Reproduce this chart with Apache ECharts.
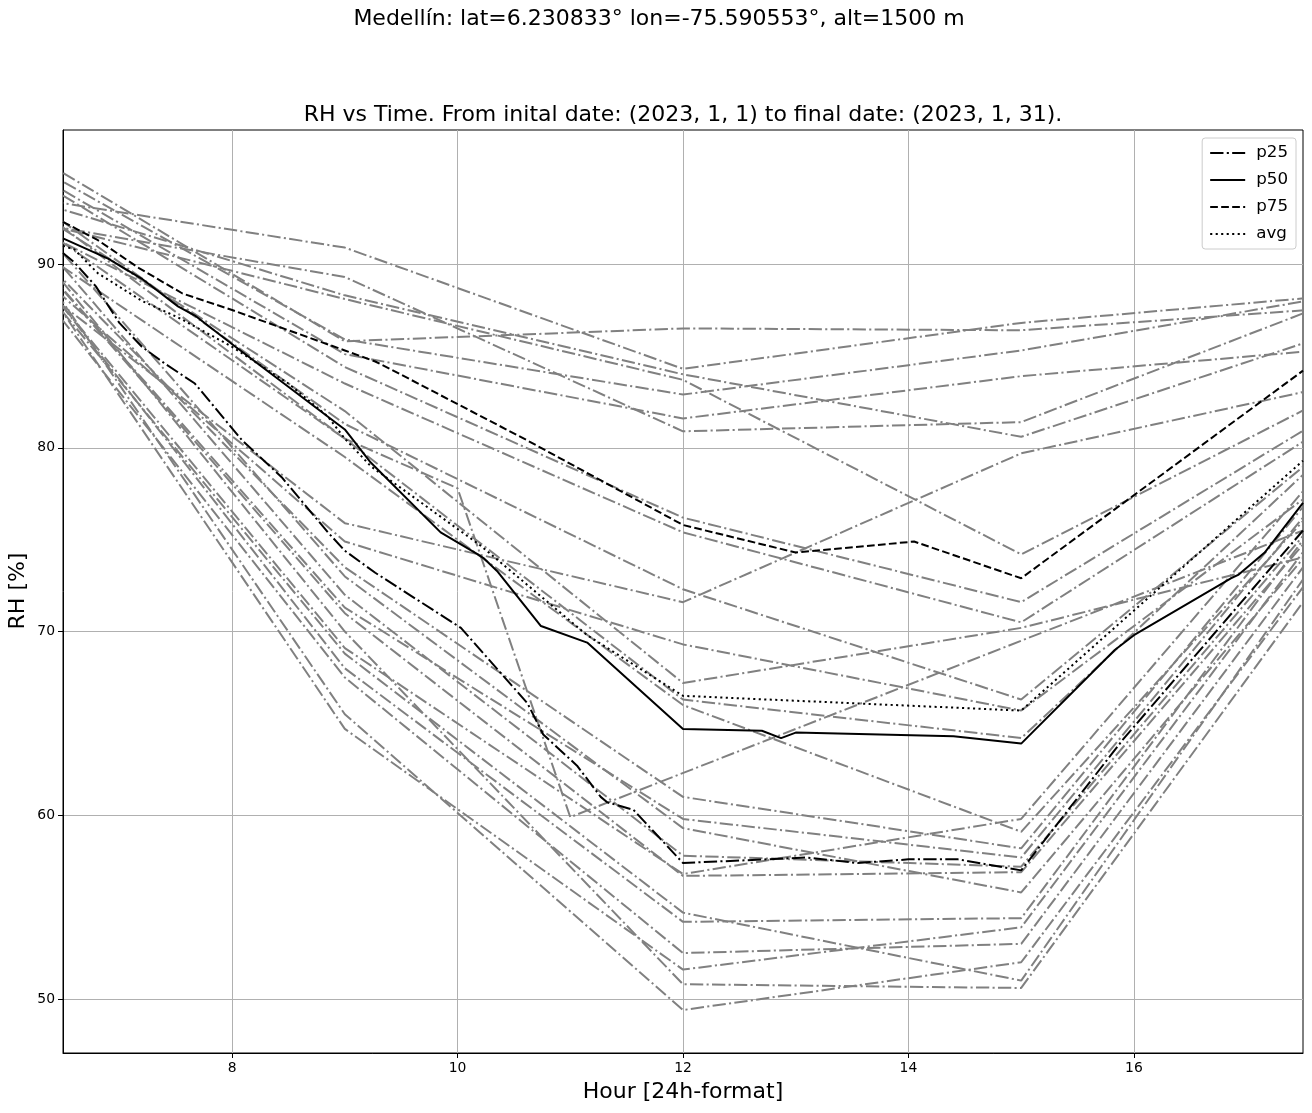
<!DOCTYPE html>
<html>
<head>
<meta charset="utf-8">
<script src="https://cdn.jsdelivr.net/npm/echarts@6/dist/echarts.min.js"></script>
<style>
html,body{margin:0;padding:0;background:#fff;}
#chart{width:1312px;height:1113px;}
</style>
</head>
<body>
<div id="chart"></div>
<script>
// ---- text ----
const SUPTITLE = 'Medellín: lat=6.230833° lon=-75.590553°, alt=1500 m';
const TITLE = 'RH vs Time. From inital date: (2023, 1, 1) to final date: (2023, 1, 31).';
const X_LABEL = 'Hour [24h-format]';
const Y_LABEL = 'RH [%]';
const X_TICKS = [8, 10, 12, 14, 16];
const Y_TICKS = [50, 60, 70, 80, 90];

// ---- daily RH curves (gray) ----
const HOURS = [6, 9, 12, 15, 18];
const D01 = [93.8, 90.9, 84.3, 86.8, 88.4];
const D02 = [92.5, 89.3, 80.9, 81.4, 88.5];
const D03 = [93.9, 88.3, 84.0, 80.6, 86.7];
const D04 = [92.7, 88.1, 83.7, 74.2, 83.6];
const D05 = [96.8, 85.8, 86.5, 86.4, 87.7];
const D06 = [96.2, 85.9, 82.9, 85.3, 88.5];
const D07 = [95.8, 85.1, 81.6, 83.9, 85.5];
const D08 = [95.6, 84.4, 76.2, 71.6, 82.8];
const D09 = [92.7, 83.5, 75.4, 70.5, 82.3];
const D10 = [94.5, 81.3, 72.3, 66.3, 81.5];
const D11 = [90.1, 75.9, 71.6, 79.7, 83.7];
const D12 = [90.9, 74.9, 69.3, 65.7, 79.5];
const D13 = [93.9, 82.0, 67.2, 70.2, 74.8];
const D14 = [93.3, 80.5, 66.3, 64.2, 81.4];
const D15 = [91.9, 79.5, 66.0, 59.1, 79.4];
const D16 = [92.3, 73.5, 61.0, 58.2, 80.5];
const D17 = [92.1, 71.3, 59.8, 57.7, 79.9];
const D18 = [94.1, 73.0, 59.3, 55.8, 77.6];
const D19 = [93.4, 72.0, 57.8, 57.2, 78.8];
const D20 = [91.4, 69.1, 56.8, 59.8, 81.2];
const D21 = [92.1, 71.0, 56.7, 56.9, 78.3];
const D22 = [91.1, 68.8, 54.7, 51.0, 77.2];
const D23 = [91.6, 68.0, 54.2, 54.4, 79.1];
const D24 = [90.8, 67.5, 52.5, 53.0, 77.6];
const D25 = [91.9, 64.7, 51.6, 53.9, 78.4];
const D26 = [92.8, 70.0, 50.8, 50.6, 75.8];
const D27 = [92.4, 65.5, 49.4, 52.0, 76.5];
const D28_HOURS = [6, 9, 10, 11, 18];
const D28 = [94.3, 80.5, 77.8, 59.9, 76.7];

// ---- statistics (black) ----
const P25_HOURS = [6.5, 6.6, 6.79, 7.0, 7.2, 7.4, 7.67, 8.09, 8.44, 8.85, 9.0, 9.27, 10.03, 10.62, 10.76, 11.06, 11.27, 11.33, 11.56, 12.0, 13.1, 13.55, 14.0, 14.44, 15.0, 15.9, 17.5];
const P25_RH    = [90.6, 90.1, 88.8, 86.8, 85.5, 84.6, 83.5, 80.4, 78.4, 75.4, 74.4, 73.2, 70.2, 66.1, 64.4, 62.7, 61.0, 60.7, 60.3, 57.4, 57.7, 57.4, 57.6, 57.6, 57.0, 64.1, 75.5];
const P50_HOURS = [6.5, 6.9, 7.2, 7.52, 7.67, 8.03, 9.0, 9.23, 9.85, 10.18, 10.23, 10.35, 10.74, 11.15, 12.0, 12.7, 12.87, 13.0, 14.4, 15.0, 15.83, 16.0, 16.86, 16.93, 17.16, 17.5];
const P50_RH    = [91.4, 90.3, 89.2, 87.7, 87.2, 85.5, 81.0, 79.2, 75.4, 74.2, 74.0, 73.3, 70.3, 69.4, 64.7, 64.6, 64.2, 64.5, 64.3, 63.9, 69.0, 69.8, 72.9, 73.1, 74.3, 77.0];
const P75_HOURS = [6.5, 6.81, 7.17, 7.56, 8.0, 8.5, 9.0, 9.27, 9.4, 10.62, 12.0, 13.0, 14.05, 15.0, 17.5];
const P75_RH    = [92.3, 91.3, 89.8, 88.4, 87.5, 86.4, 85.3, 84.7, 84.3, 80.4, 75.8, 74.3, 74.9, 72.9, 84.2];
const AVG_HOURS = [6.5, 6.6, 6.81, 7.2, 7.52, 8.0, 8.5, 8.85, 9.0, 9.23, 10.2, 11.15, 12.0, 15.0, 17.5];
const AVG_RH    = [91.0, 90.8, 89.5, 88.0, 87.1, 85.5, 83.5, 81.7, 80.5, 79.0, 74.7, 69.8, 66.5, 65.7, 79.3];

// ---- build ----
const DAYS = [D01,D02,D03,D04,D05,D06,D07,D08,D09,D10,D11,D12,D13,D14,D15,D16,D17,D18,D19,D20,D21,D22,D23,D24,D25,D26,D27];
const zip = (xs, ys) => xs.map((x, i) => [x, ys[i]]);
const FONT = 'DejaVu Sans';
const DASHDOT = [13.3, 3.3, 2.1, 3.3];
const DASHED = [7.7, 3.3];
const DOTTED = [2.1, 3.4];

const series = [];
DAYS.forEach((d, i) => {
  series.push({
    name: 'day' + (i + 1), type: 'line', data: zip(HOURS, d),
    symbol: 'none', silent: true, clip: true, z: 2,
    lineStyle: { color: '#808080', width: 2, type: DASHDOT }
  });
});
series.push({
  name: 'day28', type: 'line', data: zip(D28_HOURS, D28),
  symbol: 'none', silent: true, clip: true, z: 2,
  lineStyle: { color: '#808080', width: 2, type: DASHDOT }
});
const stat = (name, xs, ys, type) => ({
  name, type: 'line', data: zip(xs, ys), symbol: 'none', silent: true, clip: true, z: 3,
  itemStyle: { color: '#000' },
  lineStyle: { color: '#000', width: 2, type }
});
series.push(stat('p25', P25_HOURS, P25_RH, DASHDOT));
series.push(stat('p50', P50_HOURS, P50_RH, 'solid'));
series.push(stat('p75', P75_HOURS, P75_RH, DASHED));
series.push(stat('avg', AVG_HOURS, AVG_RH, DOTTED));

const chart = echarts.init(document.getElementById('chart'), null, { renderer: 'canvas' });
chart.setOption({
  animation: false,
  backgroundColor: '#fff',
  grid: { left: 63, top: 130, width: 1240, height: 923, show: true, borderColor: '#000', borderWidth: 1, backgroundColor: 'transparent' },
  xAxis: {
    type: 'value', min: 6.5, max: 17.5, splitNumber: 5,
    axisLine: { show: true, onZero: false, lineStyle: { color: '#000', width: 1 } },
    axisTick: { show: true, length: 5, inside: false, customValues: X_TICKS, lineStyle: { color: '#000', width: 1 } },
    axisLabel: { customValues: X_TICKS, margin: 8, color: '#000', fontSize: 13.9, fontFamily: FONT,
      formatter: v => X_TICKS.includes(v) ? String(v) : '' },
    splitLine: { show: true, lineStyle: { color: '#b0b0b0', width: 1 } }
  },
  yAxis: {
    type: 'value', min: 47.06, max: 97.3, splitNumber: 5,
    axisLine: { show: true, onZero: false, lineStyle: { color: '#000', width: 1 } },
    axisTick: { show: true, length: 5, inside: false, customValues: Y_TICKS, lineStyle: { color: '#000', width: 1 } },
    axisLabel: { customValues: Y_TICKS, margin: 8, color: '#000', fontSize: 13.9, fontFamily: FONT,
      formatter: v => Y_TICKS.includes(v) ? String(v) : '' },
    splitLine: { show: true, lineStyle: { color: '#b0b0b0', width: 1 } }
  },
  legend: {
    data: ['p25', 'p50', 'p75', 'avg'],
    orient: 'vertical', right: 16, top: 138,
    itemWidth: 35, itemHeight: 14, itemGap: 7,
    padding: [5, 8, 5, 7],
    itemStyle: { opacity: 0 },
    backgroundColor: 'rgba(255,255,255,0.8)', borderColor: '#cccccc', borderWidth: 1, borderRadius: 3,
    textStyle: { fontSize: 16.7, fontFamily: FONT, color: '#000', lineHeight: 20, padding: [0, 0, 0, 6] },
    selectedMode: false
  },
  graphic: [
    { type: 'text', x: 659, y: 19, style: { text: SUPTITLE, font: '22px "DejaVu Sans"', fill: '#000', align: 'center', verticalAlign: 'middle', textAlign: 'center', textVerticalAlign: 'middle' } },
    { type: 'text', x: 683, y: 115, style: { text: TITLE, font: '22px "DejaVu Sans"', fill: '#000', align: 'center', verticalAlign: 'middle', textAlign: 'center', textVerticalAlign: 'middle' } },
    { type: 'text', x: 683, y: 1092, style: { text: X_LABEL, font: '22px "DejaVu Sans"', fill: '#000', align: 'center', verticalAlign: 'middle', textAlign: 'center', textVerticalAlign: 'middle' } },
    { type: 'text', x: 18, y: 591, rotation: Math.PI / 2, style: { text: Y_LABEL, font: '22px "DejaVu Sans"', fill: '#000', align: 'center', verticalAlign: 'middle', textAlign: 'center', textVerticalAlign: 'middle' } }
  ],
  series
});
</script>
</body>
</html>
